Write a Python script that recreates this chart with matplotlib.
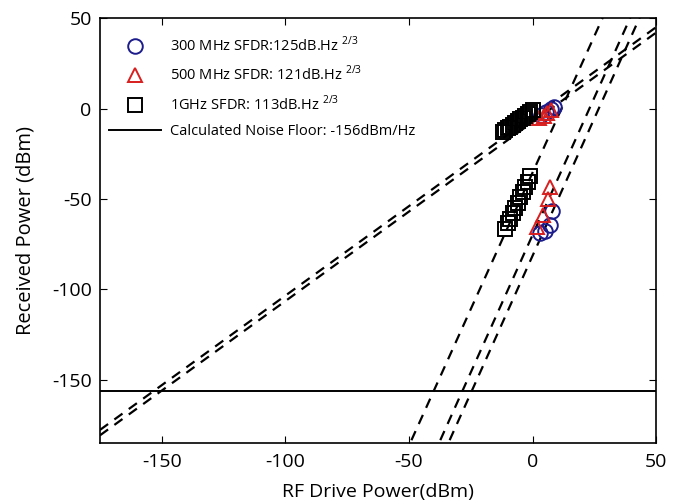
import numpy as np
import matplotlib
matplotlib.use("Agg")
import matplotlib.pyplot as plt

plt.rcParams['font.family'] = ['Open Sans', 'DejaVu Sans']
plt.rcParams['mathtext.fontset'] = 'custom'
plt.rcParams['mathtext.rm'] = 'Open Sans'
plt.rcParams['axes.unicode_minus'] = False

# 300 MHz (circles)
x300_fund = [3.5, 5.5, 7.5, 8.5]
y300_fund = [-3.5, -2.0, 0.0, 1.0]
x300_imd = [3.0, 5.0, 7.0, 8.0]
y300_imd = [-69.0, -68.0, -64.5, -56.5]

# 500 MHz (triangles)
x500_fund = [2.5, 4.5, 6.0, 7.5]
y500_fund = [-5.5, -4.0, -2.5, -1.0]
x500_imd = [2.0, 4.3, 6.3, 7.1]
y500_imd = [-65.5, -59.0, -50.0, -43.5]

# 1 GHz (squares)
x1g_fund = [-12.0, -11.0, -10.0, -9.0, -8.0, -7.0, -6.0, -5.0, -4.0, -3.0, -2.0, -1.0, 0.0]
y1g_fund = [-13.0, -12.0, -11.0, -10.0, -9.0, -8.0, -7.0, -6.0, -5.0, -4.0, -3.0, -2.0, -1.0]
x1g_imd = [-11.0, -10.0, -9.0, -8.0, -7.0, -6.0, -5.0, -4.0, -3.0, -2.0, -1.0]
y1g_imd = [-66.5, -63.5, -61.0, -58.0, -55.0, -52.0, -49.0, -46.0, -43.5, -40.5, -37.5]

# fitted lines: slope, intercept
fund_fits = [(0.99, -4.5), (0.99, -7.5)]
imd_fits = [(3.02, -35.5), (3.04, -70.0), (3.04, -81.5)]

noise_floor = -156

xlim = (-175, 50)
ylim = (-185, 50)

fig = plt.figure(figsize=(6.82, 5.04), dpi=100)
ax = fig.add_axes([0.1466, 0.121, 0.8154, 0.843])

xx = np.array(xlim, dtype=float)
for m, c in fund_fits + imd_fits:
    ax.plot(xx, m * xx + c, 'k--', lw=1.6, dashes=(4.5, 3.5))

mk = dict(linestyle='none', markerfacecolor='none', markersize=10.5, markeredgewidth=1.4)
h1, = ax.plot(x300_fund + x300_imd, y300_fund + y300_imd, marker='o',
              markeredgecolor='#1c1c8c', **mk)
h2, = ax.plot(x500_fund + x500_imd, y500_fund + y500_imd, marker='^',
              markeredgecolor='#d81e1e', **mk)
h3, = ax.plot(x1g_fund + x1g_imd, y1g_fund + y1g_imd, marker='s',
              markeredgecolor='black', **mk)
h4 = ax.axhline(noise_floor, color='black', lw=1.4)

ax.set_xlim(*xlim)
ax.set_ylim(*ylim)
ax.set_xticks([-150, -100, -50, 0, 50])
ax.set_yticks([-150, -100, -50, 0, 50])
ax.tick_params(direction='in', top=True, right=True, length=5, labelsize=14)
ax.tick_params(axis='x', pad=7)
ax.tick_params(axis='y', pad=6)
for s in ax.spines.values():
    s.set_linewidth(1.2)

ax.set_xlabel('RF Drive Power(dBm)', fontsize=14, labelpad=9)
ax.set_ylabel('Received Power (dBm)', fontsize=14.5, labelpad=12)

labels = ['300 MHz SFDR:125dB.Hz $^{2/3}$',
          '500 MHz SFDR: 121dB.Hz $^{2/3}$',
          '1GHz SFDR: 113dB.Hz $^{2/3}$',
          'Calculated Noise Floor: -156dBm/Hz']
ax.legend([h1, h2, h3, h4], labels, loc='upper left', frameon=False,
          fontsize=10.5, handlelength=3.6, handletextpad=0.6, labelspacing=0.7,
          bbox_to_anchor=(-0.008, 0.99))

fig.savefig('out.png', dpi=100)
